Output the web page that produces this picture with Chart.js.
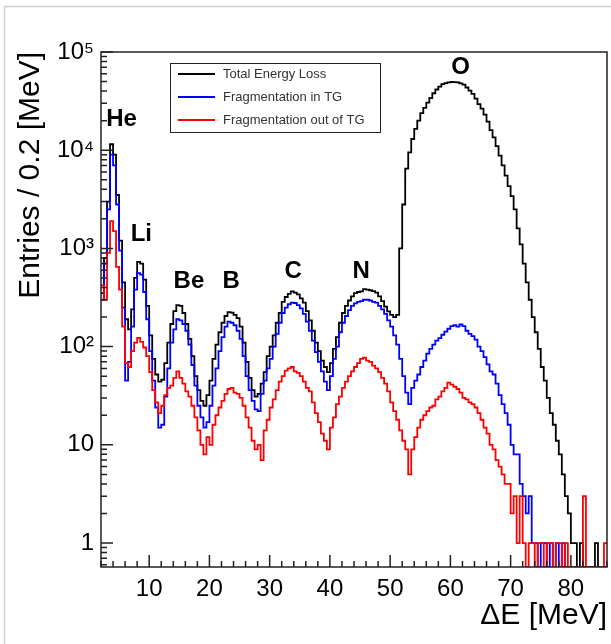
<!DOCTYPE html>
<html>
<head>
<meta charset="utf-8">
<script src="https://cdn.jsdelivr.net/npm/chart.js@4.4.0/dist/chart.umd.min.js"></script>
<style>
body { margin: 0; background: #fff; }
</style>
</head>
<body>
<canvas id="eloss" width="611" height="644"></canvas>
<script>
// 0.5 MeV bins starting at 2 MeV (counts)
var binStart = 2.0;
var binWidth = 0.5;

var totalLoss = [
  350, 800, 3000, 11500, 9000, 3500, 1200, 450, 190, 150,
  240, 500, 730, 700, 480, 260, 130, 75, 52, 44,
  46, 68, 110, 170, 230, 265, 260, 220, 170, 120,
  80, 50, 36, 28, 25, 32, 45, 75, 105, 140,
  175, 205, 225, 222, 210, 195, 160, 110, 70, 48,
  36, 31, 33, 42, 55, 80, 100, 130, 175, 220,
  285, 320, 345, 365, 355, 340, 310, 280, 230, 185,
  145, 110, 90, 72, 62, 55, 68, 95, 125, 175,
  220, 260, 295, 325, 350, 360, 365, 385, 380, 375,
  368, 355, 325, 290, 255, 228, 210, 200, 210, 1000,
  2800, 6500, 9500, 13000, 16500, 20000, 23800, 27000, 30500, 34000,
  38000, 41500, 44500, 47000, 48300, 49000, 49500, 49300, 49000, 48000,
  46500, 43500, 40500, 37500, 33500, 29500, 26500, 23000, 19500, 16000,
  13500, 11000, 8800, 7000, 5500, 4300, 3400, 2500, 1600, 1100,
  700, 450, 300, 200, 140, 95, 62, 45, 30, 21,
  16, 11, 8, 5, 3, 2, 1, 1, 0, 1,
  0, 0, 0, 0, 1, 0, 0, 0
];
var fragInTG = [
  300, 700, 2500, 9000, 7000, 2800, 950, 250, 45, 70,
  160, 380, 560, 540, 360, 190, 90, 45, 24, 15,
  16, 31, 60, 110, 150, 190, 185, 170, 145, 105,
  65, 40, 25, 19, 15, 17, 25, 40, 60, 90,
  125, 160, 180, 175, 165, 145, 120, 80, 50, 36,
  28, 23, 22, 33, 45, 60, 75, 100, 135, 175,
  220, 250, 270, 280, 278, 265, 245, 215, 180, 145,
  115, 88, 70, 56, 44, 36, 50, 75, 100, 140,
  175, 205, 235, 260, 275, 285, 290, 300, 300, 295,
  285, 280, 260, 240, 215, 185, 160, 130, 105, 75,
  50, 34, 26, 38, 45, 52, 62, 72, 85, 95,
  105, 115, 122, 132, 142, 152, 162, 165, 160, 168,
  162, 145, 135, 128, 118, 100, 90, 78, 66, 56,
  52, 42, 32, 26, 21, 16, 10, 8, 8, 4,
  3, 2, 3, 1, 1, 0, 1, 1, 0, 1,
  0, 1, 0, 1, 0, 0, 0, 0, 0, 0,
  0, 0, 0, 0, 0, 0, 0, 0
];
var fragOutTG = [
  420, 300, 900, 1900, 1500, 650, 380, 160, 68, 62,
  90, 110, 123, 112, 98, 80, 55, 36, 27, 21,
  25, 32, 38, 40, 48, 56, 48, 42, 35, 31,
  25, 19, 14, 10, 8, 12, 10, 16, 20, 24,
  28, 33, 37, 38, 34, 33, 30, 25, 19, 15,
  11, 9, 10, 7, 14, 18, 24, 29, 36, 44,
  50, 57, 60, 62, 56, 54, 50, 44, 38, 35,
  27, 21, 17, 13, 11, 9, 15, 19, 26, 31,
  38, 44, 50, 56, 62, 68, 75, 77, 72, 70,
  64, 60, 55, 48, 42, 35, 27, 22, 18, 14,
  11, 9, 5, 9, 12, 15, 18, 20, 22, 24,
  25, 29, 31, 35, 38, 43, 41, 39, 37, 34,
  30, 29, 27, 26, 24, 21, 18, 15, 13, 10,
  9, 7, 6, 5, 4, 4, 2, 3, 1, 3,
  1, 0, 1, 1, 0, 1, 1, 0, 1, 1,
  0, 1, 1, 0, 1, 0, 0, 0, 0, 0,
  3, 0, 0, 0, 0, 0, 0, 1
];

var seriesNames = ["Total Energy Loss", "Fragmentation in TG", "Fragmentation out of TG"];
var seriesColors = ["#000000", "#0000ff", "#ff0000"];

var xTicks = [10, 20, 30, 40, 50, 60, 70, 80];
var yTicks = [1, 10, 100, 1000, 10000, 100000];
var yTickLabels = ["1", "10", "10²", "10³", "10⁴", "10⁵"];

var peakNames = ["He", "Li", "Be", "B", "C", "N", "O"];
var peakX = [5.4, 8.7, 16.6, 23.6, 33.9, 45.2, 61.7];
var peakY = [20700, 1390, 460, 460, 580, 580, 70000];

var yMin = 0.57;
var yMax = 100000;

// empty bins can't sit on a log axis: like ROOT, draw them on the frame bottom
function toSteps(values) {
  var pts = values.map(function (v, i) {
    return {x: binStart + i * binWidth, y: v > 0 ? v : yMin};
  });
  var last = values[values.length - 1];
  pts.push({x: binStart + values.length * binWidth, y: last > 0 ? last : yMin});
  return pts;
}

var histDecor = {
  id: 'histDecor',
  beforeDraw: function (chart) {
    var c = chart.ctx;
    c.save();
    c.fillStyle = '#fff';
    c.fillRect(0, 0, chart.width, chart.height);
    c.strokeStyle = '#cfcfcf';
    c.lineWidth = 1.5;
    c.beginPath();
    c.moveTo(4.5, chart.height);
    c.lineTo(4.5, 6.5);
    c.lineTo(chart.width, 6.5);
    c.stroke();
    c.restore();
  },
  afterDatasetsDraw: function (chart) {
    var c = chart.ctx, a = chart.chartArea;
    var xs = chart.scales.x, ys = chart.scales.y;
    c.save();
    c.strokeStyle = '#222';
    c.lineWidth = 1.5;
    c.strokeRect(a.left, a.top, a.right - a.left, a.bottom - a.top);

    // inward ticks, ROOT style
    c.beginPath();
    for (var v = 2; v <= 86; v += 2) {
      var px = xs.getPixelForValue(v);
      var len = v % 10 === 0 ? 12 : 6;
      c.moveTo(px, a.bottom);
      c.lineTo(px, a.bottom - len);
    }
    for (var d = 0.1; d < 1e5; d *= 10) {
      for (var m = 1; m <= 9; m++) {
        var val = m * d;
        if (val < ys.min || val > ys.max) continue;
        var py = ys.getPixelForValue(val);
        var l = m === 1 ? 12 : 6;
        c.moveTo(a.left, py);
        c.lineTo(a.left + l, py);
      }
    }
    var top = ys.getPixelForValue(1e5);
    c.moveTo(a.left, top);
    c.lineTo(a.left + 12, top);
    c.stroke();

    // peak names
    c.fillStyle = '#000';
    c.font = 'bold 24px "Liberation Sans", Arial, sans-serif';
    c.textAlign = 'center';
    c.textBaseline = 'middle';
    peakNames.forEach(function (n, i) {
      c.fillText(n, xs.getPixelForValue(peakX[i]), ys.getPixelForValue(peakY[i]));
    });

    // legend box
    c.fillStyle = '#fff';
    c.fillRect(170.5, 63.5, 210, 69);
    c.strokeStyle = '#222';
    c.lineWidth = 1;
    c.strokeRect(170.5, 63.5, 210, 69);
    c.font = '13px "Liberation Sans", Arial, sans-serif';
    c.textAlign = 'left';
    chart.data.datasets.forEach(function (ds, i) {
      var y = 74 + i * 23;
      c.strokeStyle = ds.borderColor;
      c.lineWidth = 2;
      c.beginPath();
      c.moveTo(178, y);
      c.lineTo(215, y);
      c.stroke();
      c.fillStyle = '#333';
      c.fillText(ds.label, 223, y);
    });
    c.restore();
  }
};

var ctx = document.getElementById('eloss').getContext('2d');
var chart = new Chart(ctx, {
  type: 'line',
  data: {
    datasets: [
      {label: seriesNames[0], data: toSteps(totalLoss), borderColor: seriesColors[0], order: 3},
      {label: seriesNames[1], data: toSteps(fragInTG), borderColor: seriesColors[1], order: 2},
      {label: seriesNames[2], data: toSteps(fragOutTG), borderColor: seriesColors[2], order: 1}
    ]
  },
  options: {
    responsive: false,
    animation: false,
    events: [],
    layout: {padding: {left: 0, top: 52, right: 4, bottom: 0}},
    elements: {
      line: {borderWidth: 1.8, stepped: true, tension: 0, fill: false},
      point: {radius: 0}
    },
    plugins: {legend: {display: false}, tooltip: {enabled: false}},
    scales: {
      x: {
        type: 'linear',
        min: 2,
        max: 86,
        afterFit: function (s) { s.height = 77; },
        afterBuildTicks: function (s) {
          s.ticks = xTicks.map(function (v) { return {value: v}; });
        },
        grid: {display: false, drawTicks: false},
        border: {display: false},
        ticks: {
          color: '#000',
          padding: 8,
          maxRotation: 0,
          font: {family: '"Liberation Sans", Arial, sans-serif', size: 24}
        },
        title: {
          display: true,
          text: 'ΔE [MeV]',
          align: 'end',
          color: '#000',
          font: {family: '"Liberation Sans", Arial, sans-serif', size: 30},
          padding: {top: 0, bottom: 10}
        }
      },
      y: {
        type: 'logarithmic',
        min: yMin,
        max: yMax,
        afterFit: function (s) { s.width = 101; },
        afterBuildTicks: function (s) {
          s.ticks = yTicks.map(function (v) { return {value: v}; });
        },
        grid: {display: false, drawTicks: false},
        border: {display: false},
        ticks: {
          color: '#000',
          padding: 7,
          font: {family: '"Liberation Sans", Arial, sans-serif', size: 24},
          callback: function (value) {
            var i = yTicks.indexOf(value);
            return i >= 0 ? yTickLabels[i] : '';
          }
        },
        title: {
          display: true,
          text: 'Entries / 0.2 [MeV]',
          align: 'end',
          color: '#000',
          font: {family: '"Liberation Sans", Arial, sans-serif', size: 30},
          padding: {top: 13, bottom: 0}
        }
      }
    }
  },
  plugins: [histDecor]
});
</script>
</body>
</html>
